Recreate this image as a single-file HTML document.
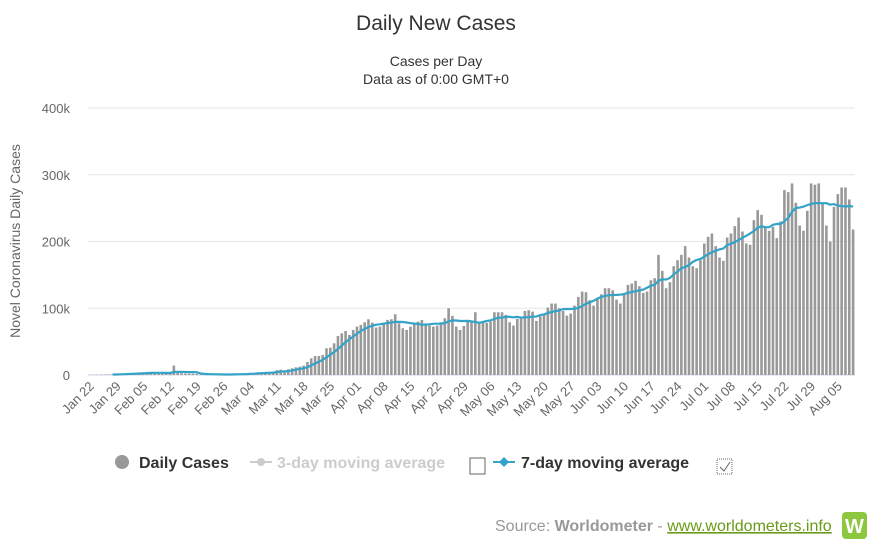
<!DOCTYPE html>
<html><head><meta charset="utf-8"><style>
body{margin:0;background:#fff;width:872px;height:546px;overflow:hidden;font-family:"Liberation Sans",sans-serif}
svg{display:block}
</style></head><body>
<svg id="chart" width="872" height="546">
<text x="436" y="30" text-anchor="middle" font-size="21" fill="#333">Daily New Cases</text>
<text x="436" y="66" text-anchor="middle" font-size="14" fill="#333">Cases per Day</text>
<text x="436" y="84" text-anchor="middle" font-size="14" fill="#333">Data as of 0:00 GMT+0</text>
<text transform="translate(20,241) rotate(-90)" text-anchor="middle" font-size="14" fill="#666">Novel Coronavirus Daily Cases</text>
<g id="grid"></g><g id="bars"></g><g id="line"></g><g id="xlabels"></g>
<g font-family="'Liberation Sans Narrow','Liberation Sans',sans-serif" font-size="16" font-weight="bold">
<g><circle cx="122" cy="462" r="7" fill="#999"/><text x="139" y="468" fill="#333">Daily Cases</text></g>
<g><line x1="250" y1="462" x2="272" y2="462" stroke="#ccc" stroke-width="2"/><circle cx="261" cy="462" r="4" fill="#ccc"/><text x="277" y="468" fill="#ccc">3-day moving average</text></g>
<rect x="470" y="458" width="15" height="16" fill="#fff" stroke="#666"/>
<g><line x1="493" y1="462" x2="515" y2="462" stroke="#33a3c8" stroke-width="2"/><path d="M504 457 L509 462 L504 467 L499 462Z" fill="#33a3c8"/><text x="521" y="468" fill="#333">7-day moving average</text></g>
<g><rect x="717" y="459" width="15" height="15" fill="#fff" stroke="#666" stroke-dasharray="1,1"/><path d="M720 467 L724 471 L730 462" fill="none" stroke="#666"/></g>
</g>
<text x="495" y="531" font-family="'Liberation Sans Narrow','Liberation Sans',sans-serif" font-size="16" fill="#999">Source: <tspan font-weight="bold">Worldometer</tspan> - <tspan fill="#6a9a17" text-decoration="underline">www.worldometers.info</tspan></text>
<g><rect x="842" y="512" width="25" height="27" rx="4" fill="#8dc63f"/><text x="854.5" y="533" text-anchor="middle" font-size="20" font-weight="bold" fill="#fff">W</text></g>
</svg>
<script>
const yTicks=[0,100000,200000,300000,400000];
const yTickLabels=["0","100k","200k","300k","400k"];
const monthNames=["Jan","Feb","Mar","Apr","May","Jun","Jul","Aug"];
const dailyK=[0.5,0.3,0.3,0.7,0.7,0.8,1.5,1.2,1.7,2.0,
2.1,2.6,2.8,3.2,3.9,3.7,3.2,3.4,2.7,3.0,2.6,2.1,14.1,5.1,2.7,2.1,2.0,1.9,1.8,0.5,0.6,0.9,1.0,0.6,0.9,0.5,0.8,1.0,1.2,
1.9,1.8,2.4,2.4,2.7,3.9,3.9,4.0,3.7,4.6,7.3,8.0,
6,8.5,10,11.5,12.5,14,19.5,25,28.5,28.5,30,40,41,47.5,58.5,62.5,66,60,67.5,72.5,75,79,83.5,78.5,71,72.5,78.5,82.5,83.5,91,77.5,70,67.5,72.5,77.5,80,82.5,77.5,74,72.5,74,79,85,100,88.5,72.5,67.5,73.5,80,80,
94,80,81,78,80,94,94,94,90,79,74,84,87,96,97,95,81,88,92,101,107,107,100,96,89,92,104,117,125,124,112,104,115,121,130,130,127,113,107,120,135,137,141,133,123,125,142,145,180,156,130,139,163,172,180,193,176,163,160,172,197,207,212,193,176,171,206,212,223,236,215,197,195,232,247,240,223,216,222,205,230,277,274,287,258,224,216,246,287,285,287,257,224,200,252,271,281,281,263,218];
const NS="http://www.w3.org/2000/svg";
const L=88,R=855,Y0=375,Y400=108;
const n=dailyK.length,bw=(R-L)/n;
const xC=i=>L+(i+0.5)*bw;
const yS=v=>Y0-(v/400000)*(Y0-Y400);
function mk(t,a,p){const e=document.createElementNS(NS,t);for(const k in a)e.setAttribute(k,a[k]);p.appendChild(e);return e;}
const grid=document.getElementById('grid');
yTicks.forEach((v,i)=>{
 const g=mk('line',{x1:L,x2:R,y1:yS(v),y2:yS(v),stroke:i===0?'#ccd6eb':'#e6e6e6','stroke-width':1},grid);
 
 
 const t=mk('text',{x:70,y:yS(v)+5,'text-anchor':'end','font-size':13,fill:'#666'},grid);
 t.textContent=yTickLabels[i];
 
 
});
const bars=document.getElementById('bars');
dailyK.forEach((v,i)=>{
 const y=yS(v*1000);
 const b=mk('rect',{x:xC(i)-1.3,y:y,width:2.6,height:Math.max(0,Y0-y),fill:'#999'},bars);
 
 
});
let pts=[];
for(let i=6;i<n;i++){let s=0;for(let j=i-6;j<=i;j++)s+=dailyK[j];pts.push(xC(i).toFixed(1)+','+yS(s/7*1000).toFixed(1));}
const pl=mk('polyline',{points:pts.join(' '),fill:'none',stroke:'#33a3c8','stroke-width':2.2,'stroke-linejoin':'round'},document.getElementById('line'));


const xl=document.getElementById('xlabels');
const start=new Date(2020,0,22);
for(let i=0;i<n;i+=7){
 const d=new Date(start.getTime()+i*86400000);
 const lab=monthNames[d.getMonth()]+' '+String(d.getDate()).padStart(2,'0');
 const x=xC(i)+5,y=387;
 const t=mk('text',{x:x,y:y,'text-anchor':'end','font-size':13,fill:'#666',transform:`rotate(-45 ${x} ${y})`},xl);
 t.textContent=lab;
 
 
}
</script>
</body></html>
